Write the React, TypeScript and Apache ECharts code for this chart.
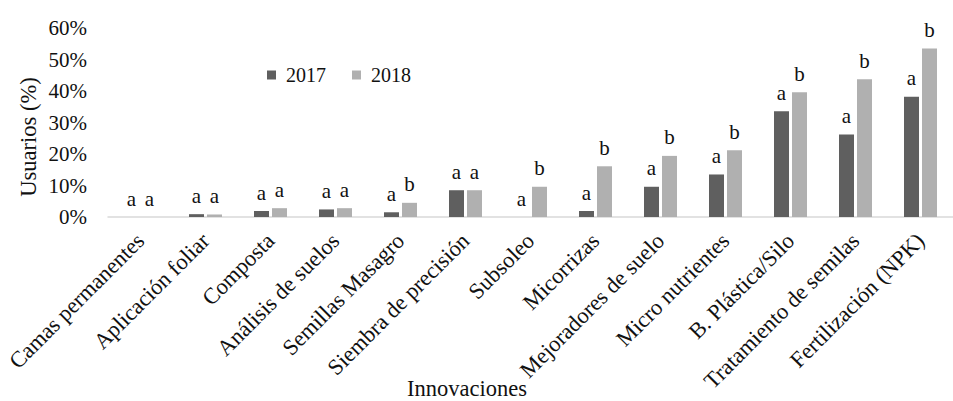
import React, { useEffect, useRef } from "react";
import * as echarts from "echarts";

const categories = [
  "Camas permanentes",
  "Aplicación foliar",
  "Composta",
  "Análisis de suelos",
  "Semillas Masagro",
  "Siembra de precisión",
  "Subsoleo",
  "Micorrizas",
  "Mejoradores de suelo",
  "Micro nutrientes",
  "B. Plástica/Silo",
  "Tratamiento de semilas",
  "Fertilización (NPK)",
];
const values2017 = [0, 0.9, 1.9, 2.4, 1.5, 8.5, 0, 1.9, 9.6, 13.5, 33.6, 26.2, 38.2];
const values2018 = [0, 0.8, 2.8, 2.8, 4.5, 8.5, 9.6, 16.1, 19.4, 21.2, 39.6, 43.7, 53.5];
const letters2017 = ["a", "a", "a", "a", "a", "a", "a", "a", "a", "a", "a", "a", "a"];
const letters2018 = ["a", "a", "a", "a", "b", "a", "b", "b", "b", "b", "b", "b", "b"];
const yTicks = [0, 10, 20, 30, 40, 50, 60];

const FONT = "'Liberation Serif', 'Times New Roman', serif";

export default function App() {
  const ref = useRef<HTMLDivElement>(null);
  useEffect(() => {
    document.body.style.margin = "0";
    const chart = echarts.init(ref.current!, undefined, { renderer: "svg" });
    const labelFor = (letters: string[]) => ({
      show: true,
      position: "top",
      distance: 8,
      fontFamily: FONT,
      fontSize: 21,
      color: "#111",
      formatter: (p: any) => letters[p.dataIndex],
    });
    chart.setOption({
      animation: false,
      backgroundColor: "#ffffff",
      textStyle: { fontFamily: FONT },
      grid: { left: 108, right: -13, top: 28, bottom: 184, containLabel: false },
      legend: {
        left: 262,
        top: 60,
        icon: "rect",
        itemWidth: 9,
        itemHeight: 9,
        itemGap: 26,
        textStyle: { fontFamily: FONT, fontSize: 20, color: "#111", padding: [0, 0, 0, 5] },
        data: ["2017", "2018"],
      },
      xAxis: {
        type: "category",
        data: categories,
        axisLine: { lineStyle: { color: "#d9d9d9", width: 1.5 } },
        axisTick: { show: false },
        axisLabel: {
          interval: 0,
          rotate: 45,
          margin: 20,
          fontFamily: FONT,
          fontSize: 22.5,
          color: "#111",
        },
      },
      yAxis: {
        type: "value",
        min: yTicks[0],
        max: yTicks[yTicks.length - 1],
        interval: 10,
        splitLine: { show: false },
        axisLine: { show: false },
        axisTick: { show: false },
        axisLabel: {
          margin: 21,
          fontFamily: FONT,
          fontSize: 21,
          color: "#111",
          formatter: (v: number) => `${v}%`,
        },
      },
      graphic: [
        {
          type: "text",
          x: 28,
          y: 137,
          rotation: Math.PI / 2,
          style: {
            text: "Usuarios (%)",
            fontFamily: FONT,
            fontSize: 22.5,
            fill: "#111",
            align: "center",
            verticalAlign: "middle",
          },
        },
        {
          type: "text",
          x: 467,
          y: 388,
          style: {
            text: "Innovaciones",
            fontFamily: FONT,
            fontSize: 22.5,
            fill: "#111",
            align: "center",
            verticalAlign: "middle",
          },
        },
      ],
      series: [
        {
          name: "2017",
          type: "bar",
          data: values2017,
          barWidth: 15,
          barGap: "20%",
          itemStyle: { color: "#5f5f5f" },
          label: labelFor(letters2017),
        },
        {
          name: "2018",
          type: "bar",
          data: values2018,
          barWidth: 15,
          itemStyle: { color: "#b0b0b0" },
          label: labelFor(letters2018),
        },
      ],
    });
    return () => chart.dispose();
  }, []);
  return <div ref={ref} style={{ width: 953, height: 401, position: "absolute", left: 0, top: 0 }} />;
}
